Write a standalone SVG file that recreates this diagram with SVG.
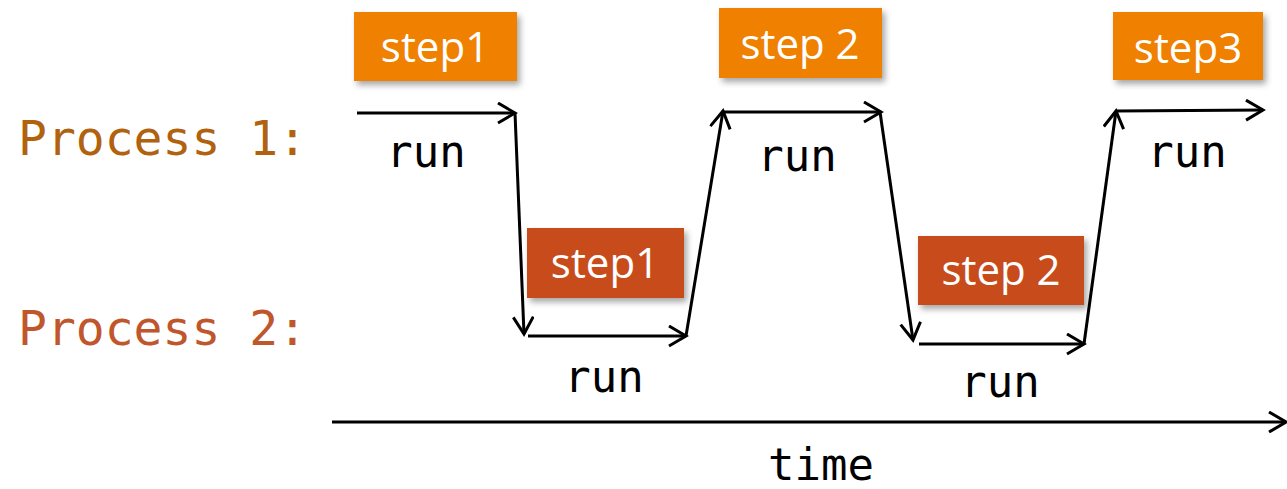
<svg xmlns="http://www.w3.org/2000/svg" width="1287" height="489" viewBox="0 0 1287 489">
<style>
.lbl{font-family:"DejaVu Sans Mono","Liberation Mono",monospace}
.run{font-size:44px;fill:#000;text-anchor:middle}
.proc{font-size:48px}
.step{font-family:"Open Sans","Liberation Sans",sans-serif;font-size:42px;fill:#fff;text-anchor:middle}
.b1{fill:#F08000}
.b2{fill:#C84C1C}
.ln{stroke:#000;stroke-width:3;fill:none;marker-end:url(#ah)}
</style>
<defs>
<marker id="ah" markerUnits="userSpaceOnUse" markerWidth="26" markerHeight="26" refX="19" refY="11" orient="auto">
<path d="M2,1 L19,11 L2,21" fill="none" stroke="#000" stroke-width="3"/>
</marker>
<filter id="sh" x="-10%" y="-10%" width="130%" height="140%">
<feDropShadow dx="3" dy="4" stdDeviation="3" flood-color="#000" flood-opacity="0.35"/>
</filter>
</defs>
<rect width="1287" height="489" fill="#fff"/>
<text class="lbl proc" x="18" y="155" fill="#B0620F">Process 1:</text>
<text class="lbl proc" x="18" y="345" fill="#C0572C">Process 2:</text>
<g id="connectors">
<line class="ln" x1="357" y1="113" x2="515" y2="113"/>
<line class="ln" x1="515" y1="113" x2="524" y2="334"/>
<line class="ln" x1="528" y1="336" x2="686" y2="336"/>
<line class="ln" x1="686" y1="336" x2="723" y2="111"/>
<line class="ln" x1="723" y1="112" x2="881" y2="112"/>
<line class="ln" x1="880" y1="112" x2="913" y2="340"/>
<line class="ln" x1="919" y1="344" x2="1084" y2="344"/>
<line class="ln" x1="1084" y1="344" x2="1116" y2="111"/>
<line class="ln" x1="1116" y1="111" x2="1263" y2="110"/>
<line class="ln" x1="332" y1="422" x2="1286" y2="422"/>
</g>
<g id="step1-p1"><rect class="b1" x="354" y="12" width="163" height="69" filter="url(#sh)"/><text class="step" x="435" y="62">step1</text></g>
<g id="step2-p1"><rect class="b1" x="719" y="8" width="163" height="70" filter="url(#sh)"/><text class="step" x="800" y="59">step 2</text></g>
<g id="step3-p1"><rect class="b1" x="1113" y="12" width="150" height="68" filter="url(#sh)"/><text class="step" x="1188" y="63">step3</text></g>
<g id="step1-p2"><rect class="b2" x="527" y="228" width="157" height="70" filter="url(#sh)"/><text class="step" x="605" y="278">step1</text></g>
<g id="step2-p2"><rect class="b2" x="918" y="236" width="166" height="69" filter="url(#sh)"/><text class="step" x="1001" y="285">step 2</text></g>
<g id="runs">
<text class="lbl run" x="426" y="167">run</text>
<text class="lbl run" x="797" y="171">run</text>
<text class="lbl run" x="1187" y="167">run</text>
<text class="lbl run" x="604" y="392">run</text>
<text class="lbl run" x="1000" y="397">run</text>
<text class="lbl run" x="821" y="480">time</text>
</g>
</svg>
